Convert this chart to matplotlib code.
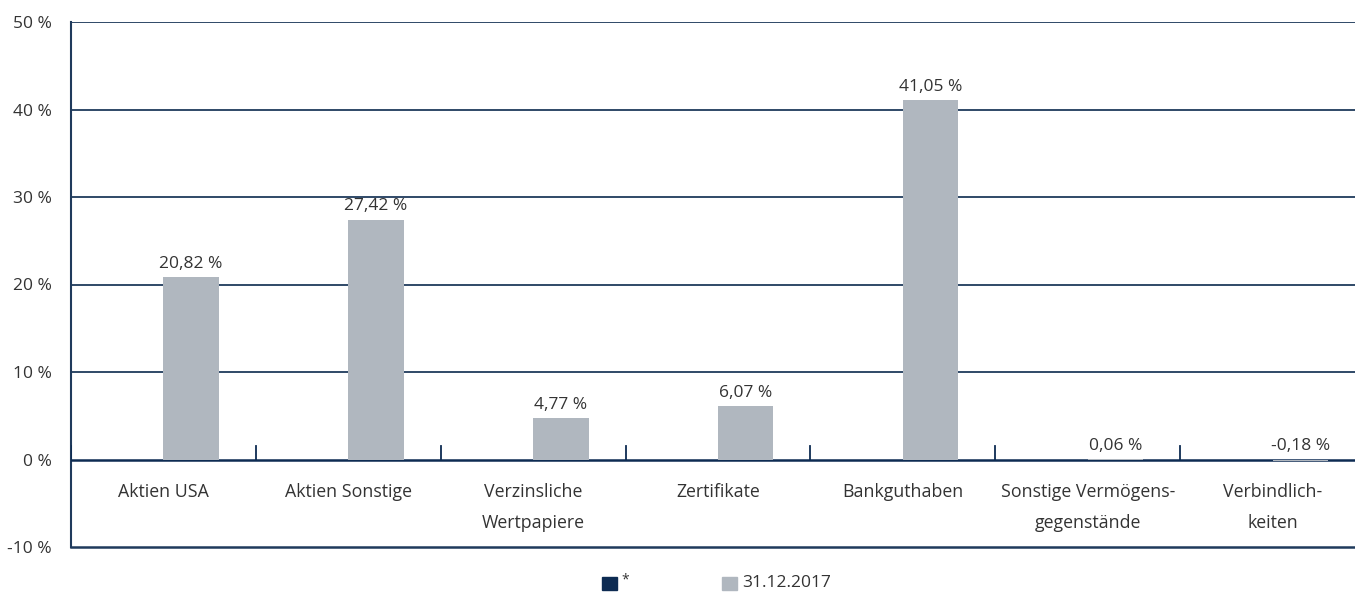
import numpy as np
import matplotlib
matplotlib.use("Agg")
import matplotlib.pyplot as plt
from matplotlib.patches import Rectangle

categories = ["Aktien USA", "Aktien Sonstige", "Verzinsliche\nWertpapiere",
              "Zertifikate", "Bankguthaben", "Sonstige Vermögens-\ngegenstände",
              "Verbindlich-\nkeiten"]
values_2017 = [20.82, 27.42, 4.77, 6.07, 41.05, 0.06, -0.18]
value_labels = ["20,82 %", "27,42 %", "4,77 %", "6,07 %", "41,05 %", "0,06 %", "-0,18 %"]
yticks = [-10, 0, 10, 20, 30, 40, 50]
ytick_labels = ["-10 %", "0 %", "10 %", "20 %", "30 %", "40 %", "50 %"]
legend_labels = ["*", "31.12.2017"]

navy = "#0d2b52"
grid_col = "#1f3a5c"
grey = "#b0b7bf"
text_col = "#333333"
plt.rcParams['font.family'] = ['Open Sans', 'DejaVu Sans']

W, H = 1355, 594
fig = plt.figure(figsize=(W / 100, H / 100), dpi=100)
left, right, top, bottom = 71, 1365, 22, 547
ax = fig.add_axes([left / W, (H - bottom) / H, (right - left) / W, (bottom - top) / H])
ax.set_xlim(0, len(categories))
ax.set_ylim(-10, 50)

x = np.arange(len(categories)) + 0.5
bw = 0.3
ax.bar(x + bw / 2, values_2017, width=bw, color=grey, zorder=4)

# gridlines
for t in yticks[2:]:
    ax.axhline(t, color=grid_col, lw=1.3, zorder=1)
ax.axhline(0, color=navy, lw=1.8, zorder=3)
ax.axhline(-10, color=grid_col, lw=1.8, zorder=3, clip_on=False)

# category separator ticks
for b in range(len(categories)):
    ax.plot([b, b], [0, 1.5], color=navy, lw=1.3, zorder=3)

for xi, v, lab in zip(x, values_2017, value_labels):
    ax.text(xi + bw / 2, max(v, 0) + 0.6, lab, ha='center', va='bottom',
            fontsize=12.5, color=text_col)

for xi, c in zip(x, categories):
    ax.text(xi, -2.7, c, ha='center', va='top', fontsize=12.8, color=text_col,
            linespacing=1.95)

for s in ['top', 'right', 'bottom']:
    ax.spines[s].set_visible(False)
ax.spines['left'].set_color(grid_col)
ax.spines['left'].set_linewidth(1.5)
ax.set_xticks([])
ax.set_yticks(yticks)
ax.set_yticklabels(ytick_labels, fontsize=12.5, color=text_col)
ax.tick_params(axis='y', length=0, pad=14)

# legend
fig.patches.append(Rectangle((602 / W, (H - 590) / H), 15 / W, 13 / H,
                             transform=fig.transFigure, color=navy))
fig.text(621 / W, (H - 580) / H, legend_labels[0], fontsize=10, color=text_col,
         va='center', ha='left')
fig.patches.append(Rectangle((722 / W, (H - 590) / H), 15 / W, 13 / H,
                             transform=fig.transFigure, color=grey))
fig.text(742 / W, (H - 583) / H, legend_labels[1], fontsize=12.5, color=text_col,
         va='center', ha='left')

fig.savefig("out.png", dpi=100)
